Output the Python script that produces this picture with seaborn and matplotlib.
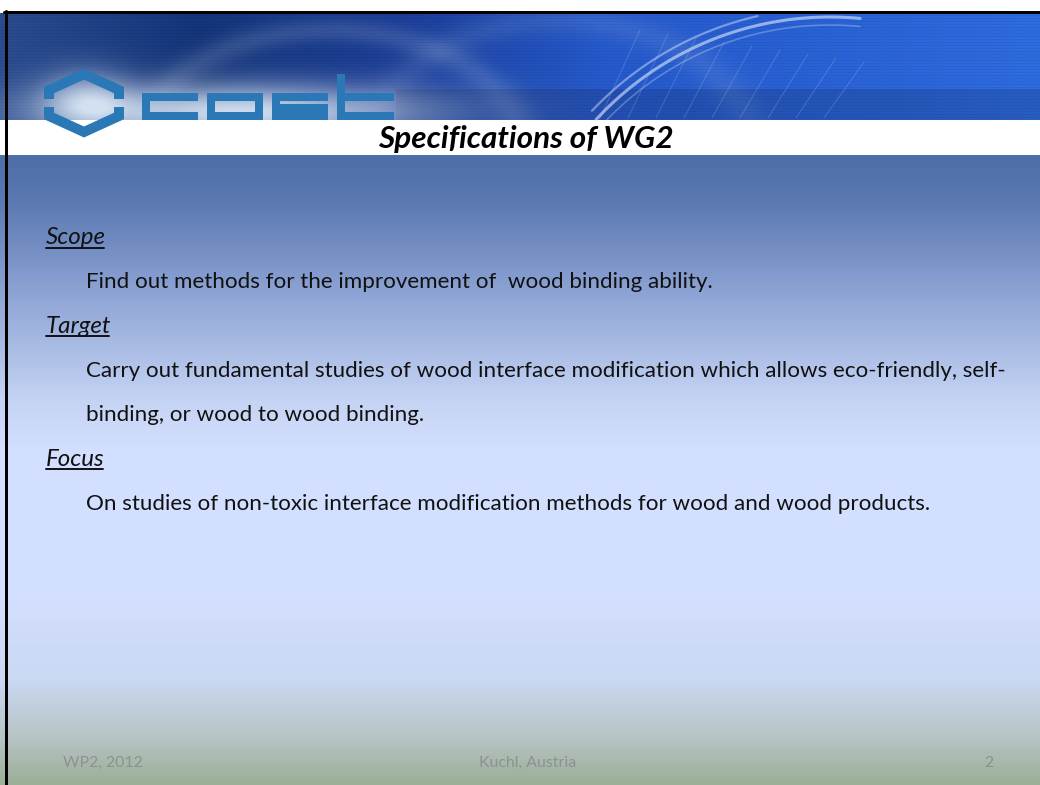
import numpy as np
import matplotlib
matplotlib.use("Agg")
import matplotlib.pyplot as plt
import seaborn as sns
from matplotlib.colors import to_rgb, LinearSegmentedColormap
from matplotlib.patches import Rectangle

# slide content
title = "Specifications of WG2"
headings = ["Scope", "Target", "Focus"]
scope_lines = ["Find out methods for the improvement of  wood binding ability."]
target_lines = ["Carry out fundamental studies of wood interface modification which allows eco-friendly, self-",
                "binding, or wood to wood binding."]
focus_lines = ["On studies of non-toxic interface modification methods for wood and wood products."]
footer_left = "WP2, 2012"
footer_mid = "Kuchl, Austria"
footer_right = "2"

W, H = 1040, 785
sns.set_theme(style="white")
plt.rcParams["font.family"] = ["Lato", "DejaVu Sans"]

fig = plt.figure(figsize=(W / 100, H / 100), dpi=100)
fig.patch.set_facecolor("white")
ax = fig.add_axes([0, 0, 1, 1])
ax.set_xlim(0, W)
ax.set_ylim(H, 0)
ax.axis("off")

# body background gradient
stops = [(155, "#4e6ea8"), (200, "#5b79b2"), (270, "#8199cc"), (340, "#a6b9e3"),
         (400, "#c5d3f4"), (450, "#d3dffe"), (600, "#d3dffe"), (680, "#cad8f2"),
         (735, "#b8c6c8"), (785, "#9caf98")]
cmap = LinearSegmentedColormap.from_list(
    "body", [((y - 155) / (785 - 155), c) for y, c in stops])
grad = np.linspace(0, 1, 630).reshape(-1, 1)
ax.imshow(grad, cmap=cmap, aspect="auto", extent=(0, W, 785, 155), zorder=0)

# banner
by0, by1 = 13, 120
yy, xx = np.mgrid[by0:by1, 0:W].astype(float)
xs = [0, 200, 400, 600, 1040]
cols = np.array([to_rgb(c) for c in ["#2a4c90", "#15357a", "#1a3d98", "#2559cc", "#2e6ce0"]])
base = np.stack([np.interp(xx, xs, cols[:, i]) for i in range(3)], axis=-1)
# soft swirl highlights on the left
sw = 0.18 * np.exp(-((np.hypot((xx - 330) / 1.6, yy - 150) - 120) / 12) ** 2)
sw += 0.12 * np.exp(-((np.hypot((xx - 560) / 1.4, yy - 160) - 140) / 14) ** 2)
base = base * (1 - sw[..., None]) + np.array(to_rgb("#b8c8e0")) * sw[..., None]
band = (yy > 88) & (xx > 395)
base[band] *= 0.86
scan = (yy.astype(int) % 3) == 0
base[scan] *= 0.94
glow = 0.92 * np.exp(-((xx - 240) / 185) ** 2 - ((yy - 112) / 28) ** 2)
glow += 0.55 * np.exp(-((xx - 85) / 45) ** 2 - ((yy - 100) / 30) ** 2)
glow = np.clip(glow, 0, 0.95)[..., None]
base = base * (1 - glow) + np.array(to_rgb("#dce9f6")) * glow
ax.imshow(np.clip(base, 0, 1), aspect="auto", extent=(0, W, by1, by0), zorder=1)

# truss arc of the globe
ax_x = np.linspace(592, 860, 200)
for r, a, lw in [(318, 0.6, 2.2), (327, 0.45, 1.6), (310, 0.3, 1.2)]:
    arc_y = 335 - np.sqrt(np.clip(r ** 2 - (ax_x - 830) ** 2, 0, None))
    arc_y = np.where((arc_y > by0 + 3) & (arc_y < by1), arc_y, np.nan)
    ax.plot(ax_x, arc_y, color="#dfeaff", alpha=a, lw=lw, zorder=2)
for k in range(9):
    x0 = 600 + k * 28
    ax.plot([x0, x0 + 40], [by1 - 2, 30 + k * 4], color="#cfe0ff", alpha=0.18, lw=0.8, zorder=2)

# cost logo
logo = "#2a78b6"
lw_pt = 10 * 0.72
ax.plot([49, 49, 84, 119, 119], [99, 90, 74, 90, 99], color=logo, lw=lw_pt,
        solid_joinstyle="miter", solid_capstyle="butt", zorder=3)
ax.plot([49, 49, 84, 119, 119], [107, 116, 132, 116, 107], color=logo, lw=lw_pt,
        solid_joinstyle="miter", solid_capstyle="butt", zorder=3)
s = 8
top, bot = 93, 120
hh = bot - top
blocks = [
    # c
    (142, top, 56, s), (142, top, s, hh), (142, bot - s, 56, s),
    # o
    (207, top, 56, s), (207, top, s, hh), (255, top, s, hh), (207, bot - s, 56, s),
    # s
    (272, top, 56, s), (272, top, s, 14), (272, 103.5, 56, s), (320, 103.5, s, 16.5), (272, bot - s, 56, s),
    # t
    (337, 74, s, bot - 74), (337, top, 57, s), (337, bot - s, 57, s),
]
for x0, y0, w, h in blocks:
    ax.add_patch(Rectangle((x0, y0), w, h, color=logo, lw=0, zorder=3))

# borders
ax.plot([5.5, 5.5], [11, H], color="black", lw=3 * 0.72, zorder=5)
ax.plot([4, W], [11.5, 11.5], color="black", lw=3 * 0.72, zorder=5)

renderer = fig.canvas.get_renderer()


def fit_size(t, width):
    w = t.get_window_extent(renderer).width
    t.set_fontsize(t.get_fontsize() * width / w)


tt = ax.text(525.5, 148, title, ha="center", va="baseline", fontsize=22,
             fontweight="bold", fontstyle="italic", color="black", zorder=4)
fit_size(tt, 295)

probe = ax.text(86, 377, target_lines[0], va="baseline", fontsize=16, color="#111111", zorder=4)
fit_size(probe, 922)
body_fs = probe.get_fontsize()
probe.remove()
hprobe = ax.text(46, 244, headings[0], va="baseline", fontsize=16, fontstyle="italic", zorder=4)
fit_size(hprobe, 60)
head_fs = hprobe.get_fontsize()
hprobe.remove()

rows = [("h", headings[0])] + [("b", t) for t in scope_lines] + \
       [("h", headings[1])] + [("b", t) for t in target_lines] + \
       [("h", headings[2])] + [("b", t) for t in focus_lines]
y = 244
for kind, txt in rows:
    if kind == "h":
        t = ax.text(46, y, txt, va="baseline", fontsize=head_fs, fontstyle="italic",
                    color="#111111", zorder=4)
        bb = t.get_window_extent(renderer)
        ax.plot([46, 46 + bb.width - 2], [y + 3.5, y + 3.5], color="#111111", lw=1.4, zorder=4)
    else:
        ax.text(86, y, txt, va="baseline", fontsize=body_fs, color="#111111", zorder=4)
    y += 44.3

fc = "#8d9191"
fm = ax.text(528, 767, footer_mid, ha="center", va="baseline", fontsize=11, color=fc, zorder=4)
fit_size(fm, 97)
ffs = fm.get_fontsize()
ax.text(63, 767, footer_left, va="baseline", fontsize=ffs, color=fc, zorder=4)
ax.text(993, 767, footer_right, ha="right", va="baseline", fontsize=ffs, color=fc, zorder=4)

fig.savefig("out.png", dpi=100)
